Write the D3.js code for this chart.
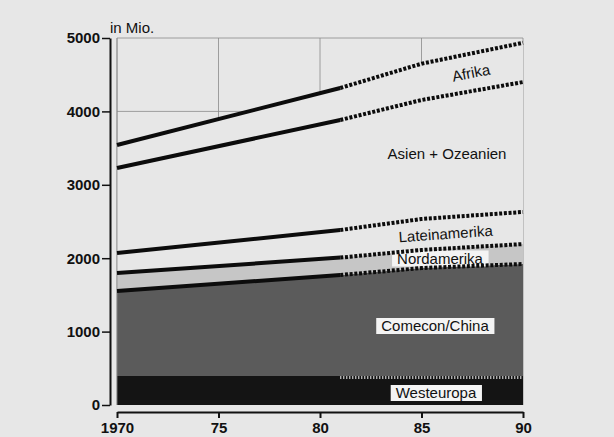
<!DOCTYPE html>
<html>
<head>
<meta charset="utf-8">
<script src="https://cdn.jsdelivr.net/npm/d3@7"></script>
<style>
    body { margin: 0; background: #e7e7e7; }
    svg { display: block; font-family: "Liberation Sans", Arial, Helvetica, sans-serif; }
</style>
</head>
<body>
<svg id="chart" width="614" height="437"></svg>
<script>
// Weltbevölkerung nach Regionen, in Mio. (Werte ab 1981 Prognose)
const years = [1970, 1981, 1985, 1990];
const westeuropa = [395, 395, 395, 395];
const comecon = [1158, 1376, 1471, 1526];
const nordamerika = [245, 237, 246, 272];
const lateinamerika = [272, 376, 422, 437];
const asien = [1159, 1499, 1621, 1770];
const afrika = [313, 436, 495, 535];
const projectionStart = 1981;

const xTicks = [1970, 1975, 1980, 1985, 1990];
const xTickLabels = ['1970', '75', '80', '85', '90'];
const yTicks = [0, 1000, 2000, 3000, 4000, 5000];

const keys = ['westeuropa', 'comecon', 'nordamerika', 'lateinamerika', 'asien', 'afrika'];
const series = { westeuropa, comecon, nordamerika, lateinamerika, asien, afrika };

const PAPER = '#e7e7e7';
const fills = {
    westeuropa: '#141414',
    comecon: '#5b5b5b',
    nordamerika: '#c6c6c6',
    lateinamerika: PAPER,
    asien: PAPER,
    afrika: PAPER
};

const rows = years.map((year, i) => {
    const r = { year };
    keys.forEach(k => { r[k] = series[k][i]; });
    return r;
});

const svg = d3.select('#chart');

// Scales
const x = d3.scaleLinear().domain([1970, 1990]).range([117, 523]);
const y = d3.scaleLinear().domain([0, 5000]).range([405, 38]);

const stacked = d3.stack().keys(keys)(rows);

// Grid (only visible above the total line)
const grid = svg.append('g').attr('class', 'grid')
    .attr('stroke', '#8a8a8a').attr('stroke-width', 0.8);
grid.selectAll('.gx').data(xTicks).join('line')
    .attr('x1', d => x(d)).attr('x2', d => x(d))
    .attr('y1', y(5000)).attr('y2', y(0));
grid.selectAll('.gy').data(yTicks.filter(d => d > 0)).join('line')
    .attr('x1', x(1970)).attr('x2', x(1990))
    .attr('y1', d => y(d)).attr('y2', d => y(d));

// Bands
const area = d3.area()
    .x(d => x(d.data.year))
    .y0(d => y(d[0]))
    .y1(d => y(d[1]));

svg.append('g').selectAll('path')
    .data(stacked)
    .join('path')
    .attr('fill', d => fills[d.key])
    .attr('d', area);

// left edge of plot
svg.append('line')
    .attr('x1', x(1970)).attr('x2', x(1970))
    .attr('y1', y(5000)).attr('y2', y(0))
    .attr('stroke', '#8a8a8a').attr('stroke-width', 0.8);

// Labels with white boxes
const boxLabels = [
    { text: 'Nordamerika', cx: 440, base: 263.5 },
    { text: 'Comecon/China', cx: 435, base: 331 },
    { text: 'Westeuropa', cx: 436, base: 398 }
];
const boxG = svg.append('g');
boxLabels.forEach(l => {
    const g = boxG.append('g');
    const t = g.append('text')
        .attr('x', l.cx).attr('y', l.base)
        .attr('text-anchor', 'middle')
        .attr('font-size', 15).attr('fill', '#111')
        .text(l.text);
    const bb = t.node().getBBox();
    g.insert('rect', 'text')
        .attr('x', bb.x - 5).attr('y', bb.y + 1)
        .attr('width', bb.width + 10).attr('height', bb.height - 1)
        .attr('fill', '#f4f4f4');
});

// Boundary lines: solid up to projection start, dotted after
const line = d3.line()
    .x(d => x(d.data.year))
    .y(d => y(d[1]));

const lines = svg.append('g');
stacked.filter(s => s.key !== 'westeuropa').forEach(s => {
    lines.append('path')
        .attr('fill', 'none').attr('stroke', '#0c0c0c').attr('stroke-width', 4)
        .attr('d', line(s.filter(d => d.data.year <= projectionStart)));
    lines.append('path')
        .attr('fill', 'none').attr('stroke', '#0c0c0c').attr('stroke-width', 4)
        .attr('stroke-dasharray', '3,1.7')
        .attr('d', line(s.filter(d => d.data.year >= projectionStart)));
});
// Westeuropa boundary: white ticks for projection
const we = stacked.find(s => s.key === 'westeuropa');
lines.append('path')
    .attr('fill', 'none').attr('stroke', '#f0f0f0').attr('stroke-width', 3)
    .attr('stroke-dasharray', '1,2')
    .attr('transform', 'translate(0,1.5)')
    .attr('d', line(we.filter(d => d.data.year >= projectionStart)));

// Free labels
const freeLabels = [
    { text: 'Afrika', cx: 472, base: 78, rot: -11 },
    { text: 'Asien + Ozeanien', cx: 447, base: 159, rot: 0 },
    { text: 'Lateinamerika', cx: 446, base: 239, rot: -4 }
];
svg.append('g').selectAll('text')
    .data(freeLabels)
    .join('text')
    .attr('transform', d => `translate(${d.cx},${d.base}) rotate(${d.rot})`)
    .attr('text-anchor', 'middle')
    .attr('font-size', 15).attr('fill', '#111')
    .text(d => d.text);

// Axes
const yAxis = d3.axisLeft(y).tickValues(yTicks).tickFormat(d3.format('d'))
    .tickSize(8).tickSizeOuter(0).tickPadding(2);
const yg = svg.append('g').attr('transform', 'translate(110,0)').call(yAxis);
yg.select('.domain').attr('stroke', '#111').attr('stroke-width', 2);
yg.selectAll('.tick line').attr('stroke', '#111').attr('stroke-width', 1.5);
yg.selectAll('.tick text')
    .attr('font-size', 15).attr('font-weight', 'bold').attr('fill', '#111')
    .attr('font-family', '"Liberation Sans", Arial, sans-serif');

const xAxis = d3.axisBottom(x).tickValues(xTicks)
    .tickFormat((d, i) => xTickLabels[i]).tickSize(6).tickSizeOuter(0).tickPadding(4);
const xg = svg.append('g').attr('transform', 'translate(0,412)').call(xAxis);
xg.select('.domain').attr('stroke', '#111').attr('stroke-width', 2);
xg.selectAll('.tick line').attr('stroke', '#111').attr('stroke-width', 2);
xg.selectAll('.tick text')
    .attr('font-size', 15).attr('font-weight', 'bold').attr('fill', '#111')
    .attr('font-family', '"Liberation Sans", Arial, sans-serif');

svg.append('text')
    .attr('x', 110).attr('y', 33)
    .attr('font-size', 15).attr('fill', '#111')
    .text('in Mio.');
</script>
</body>
</html>
